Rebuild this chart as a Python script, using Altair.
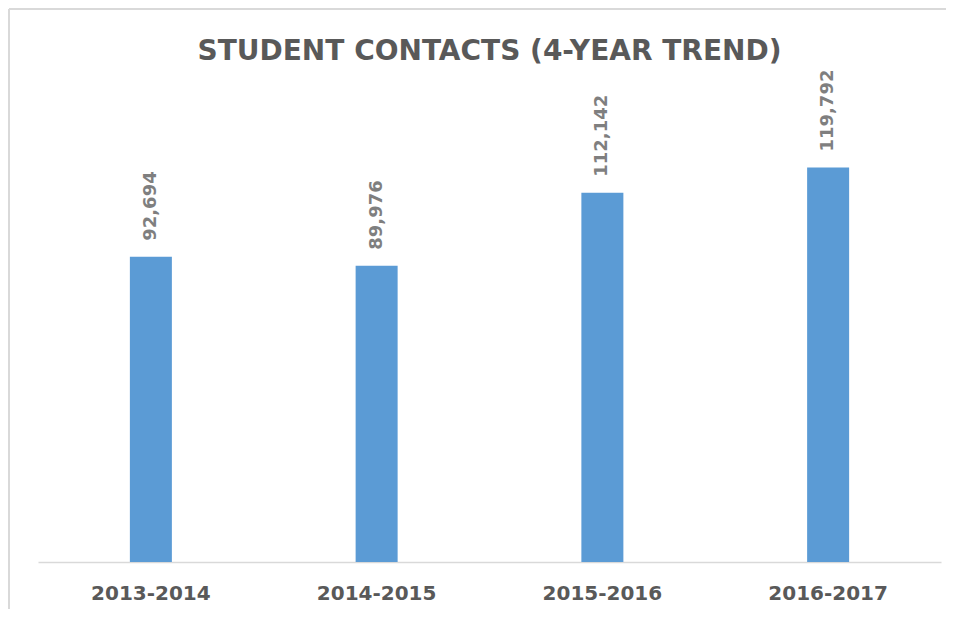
import altair as alt
import pandas as pd

years = ["2013-2014", "2014-2015", "2015-2016", "2016-2017"]
contacts = [92694, 89976, 112142, 119792]

df = pd.DataFrame({"year": years, "contacts": contacts})

FONT = "DejaVu Sans"

x = alt.X("year:N", sort=years, title=None,
          scale=alt.Scale(paddingInner=0, paddingOuter=0),
          axis=alt.Axis(labelAngle=0, labelFont=FONT, labelFontSize=20,
                        labelFontWeight="bold", labelColor="#595959",
                        labelPadding=21, ticks=False, domainColor="#d9d9d9",
                        domainWidth=1.5))
y = alt.Y("contacts:Q", title=None, scale=alt.Scale(domain=[0, 140000]),
          axis=None)

bars = alt.Chart(df).mark_bar(size=42, color="#5b9bd5").encode(x=x, y=y)

labels = alt.Chart(df).mark_text(
    angle=270, align="left", baseline="middle", dx=16,
    font=FONT, fontSize=18, fontWeight="bold", color="#7f7f7f"
).encode(x=alt.X("year:N", sort=years), y="contacts:Q",
         text=alt.Text("contacts:Q", format=","))

top_edge = alt.Chart(df).mark_rule(
    stroke="#d9d9d9", strokeWidth=1.5, clip=False
).encode(x=alt.value(-29), x2=alt.value(960), y=alt.value(-92))

left_edge = alt.Chart(df).mark_rule(
    stroke="#d9d9d9", strokeWidth=1.5, clip=False
).encode(x=alt.value(-29), y=alt.value(-92), y2=alt.value(540))

chart = alt.layer(top_edge, left_edge, bars, labels).properties(
    width=903, height=461,
    autosize=alt.AutoSizeParams(type="none"),
    padding={"left": 30, "top": 93, "right": 5, "bottom": 47},
    title=alt.TitleParams("STUDENT CONTACTS (4-YEAR TREND)", font=FONT,
                          fontSize=28, fontWeight="bold", color="#595959",
                          anchor="middle", offset=-58),
).configure_view(stroke=None)

chart.save("out.html", embed_options={"renderer": "svg", "actions": False})
